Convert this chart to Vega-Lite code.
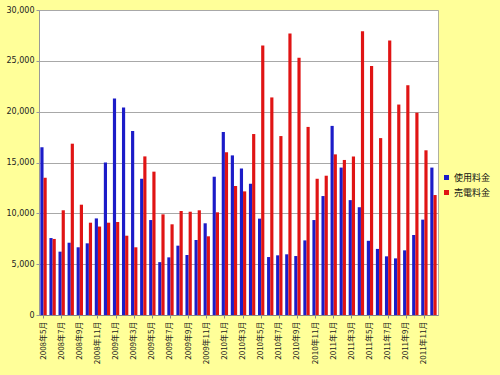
{
  "$schema": "https://vega.github.io/schema/vega-lite/v6.json",
  "autosize": "none",
  "width": 399,
  "height": 305,
  "padding": {"left": 39, "top": 10, "right": 62, "bottom": 60},
  "background": "#FFFF99",
  "data": {"values": [
    {"m": "2008年5月", "使用料金": 16500, "売電料金": 13500},
    {"m": "2008年6月", "使用料金": 7570, "売電料金": 7480},
    {"m": "2008年7月", "使用料金": 6230, "売電料金": 10300},
    {"m": "2008年8月", "使用料金": 7110, "売電料金": 16850},
    {"m": "2008年9月", "使用料金": 6660, "売電料金": 10850},
    {"m": "2008年10月", "使用料金": 7050, "売電料金": 9080},
    {"m": "2008年11月", "使用料金": 9500, "売電料金": 8700},
    {"m": "2008年12月", "使用料金": 15000, "売電料金": 9080},
    {"m": "2009年1月", "使用料金": 21300, "売電料金": 9150},
    {"m": "2009年2月", "使用料金": 20400, "売電料金": 7800},
    {"m": "2009年3月", "使用料金": 18100, "売電料金": 6660},
    {"m": "2009年4月", "使用料金": 13400, "売電料金": 15600},
    {"m": "2009年5月", "使用料金": 9340, "売電料金": 14100},
    {"m": "2009年6月", "使用料金": 5200, "売電料金": 9900},
    {"m": "2009年7月", "使用料金": 5670, "売電料金": 8920},
    {"m": "2009年8月", "使用料金": 6820, "売電料金": 10230},
    {"m": "2009年9月", "使用料金": 5900, "売電料金": 10160},
    {"m": "2009年10月", "使用料金": 7380, "売電料金": 10300},
    {"m": "2009年11月", "使用料金": 9020, "売電料金": 7740},
    {"m": "2009年12月", "使用料金": 13600, "売電料金": 10100},
    {"m": "2010年1月", "使用料金": 18000, "売電料金": 16000},
    {"m": "2010年2月", "使用料金": 15700, "売電料金": 12700},
    {"m": "2010年3月", "使用料金": 14400, "売電料金": 12160},
    {"m": "2010年4月", "使用料金": 12900, "売電料金": 17800},
    {"m": "2010年5月", "使用料金": 9480, "売電料金": 26500},
    {"m": "2010年6月", "使用料金": 5700, "売電料金": 21400},
    {"m": "2010年7月", "使用料金": 5870, "売電料金": 17600},
    {"m": "2010年8月", "使用料金": 5970, "売電料金": 27700},
    {"m": "2010年9月", "使用料金": 5800, "売電料金": 25300},
    {"m": "2010年10月", "使用料金": 7340, "売電料金": 18500},
    {"m": "2010年11月", "使用料金": 9340, "売電料金": 13400},
    {"m": "2010年12月", "使用料金": 11700, "売電料金": 13700},
    {"m": "2011年1月", "使用料金": 18600, "売電料金": 15800},
    {"m": "2011年2月", "使用料金": 14500, "売電料金": 15250},
    {"m": "2011年3月", "使用料金": 11300, "売電料金": 15600},
    {"m": "2011年4月", "使用料金": 10600, "売電料金": 27900},
    {"m": "2011年5月", "使用料金": 7300, "売電料金": 24500},
    {"m": "2011年6月", "使用料金": 6500, "売電料金": 17400},
    {"m": "2011年7月", "使用料金": 5770, "売電料金": 27000},
    {"m": "2011年8月", "使用料金": 5570, "売電料金": 20700},
    {"m": "2011年9月", "使用料金": 6360, "売電料金": 22600},
    {"m": "2011年10月", "使用料金": 7870, "売電料金": 19900},
    {"m": "2011年11月", "使用料金": 9380, "売電料金": 16200},
    {"m": "2011年12月", "使用料金": 14500, "売電料金": 11800}
  ]},
  "transform": [{"fold": ["使用料金", "売電料金"], "as": ["series", "value"]}],
  "mark": {"type": "bar"},
  "encoding": {
    "x": {
      "field": "m", "type": "ordinal", "sort": null, "title": null,
      "scale": {"paddingInner": 0.3, "paddingOuter": 0.15},
      "axis": {
        "values": ["2008年5月","2008年7月","2008年9月","2008年11月","2009年1月","2009年3月","2009年5月","2009年7月","2009年9月","2009年11月","2010年1月","2010年3月","2010年5月","2010年7月","2010年9月","2010年11月","2011年1月","2011年3月","2011年5月","2011年7月","2011年9月","2011年11月"],
        "labelAngle": -90, "labelAlign": "right", "labelBaseline": "middle",
        "labelFont": "Noto Sans CJK JP", "labelFontSize": 8, "labelColor": "#222",
        "domainColor": "#888", "tickColor": "#888", "tickSize": 3, "labelPadding": 3
      }
    },
    "xOffset": {"field": "series", "type": "nominal", "sort": ["使用料金", "売電料金"]},
    "y": {
      "field": "value", "type": "quantitative", "title": null,
      "scale": {"domain": [0, 30000], "nice": false},
      "axis": {
        "values": [0, 5000, 10000, 15000, 20000, 25000, 30000], "format": ",d",
        "labelFont": "DejaVu Sans", "labelFontSize": 8, "labelColor": "#222",
        "gridColor": "#a8a8a8", "domainColor": "#999", "tickSize": 3, "tickColor": "#999", "labelPadding": 2
      }
    },
    "color": {
      "field": "series", "type": "nominal", "title": null,
      "scale": {"domain": ["使用料金", "売電料金"], "range": ["#1c1cc8", "#e01414"]},
      "legend": {
        "orient": "none", "legendX": 403, "legendY": 163,
        "symbolType": "square", "symbolSize": 25, "rowPadding": 5,
        "labelFont": "Noto Sans CJK JP", "labelFontSize": 9, "labelColor": "#111", "labelOffset": 3
      }
    }
  },
  "config": {
    "view": {"fill": "white", "stroke": "#b0b0a0"}
  }
}
